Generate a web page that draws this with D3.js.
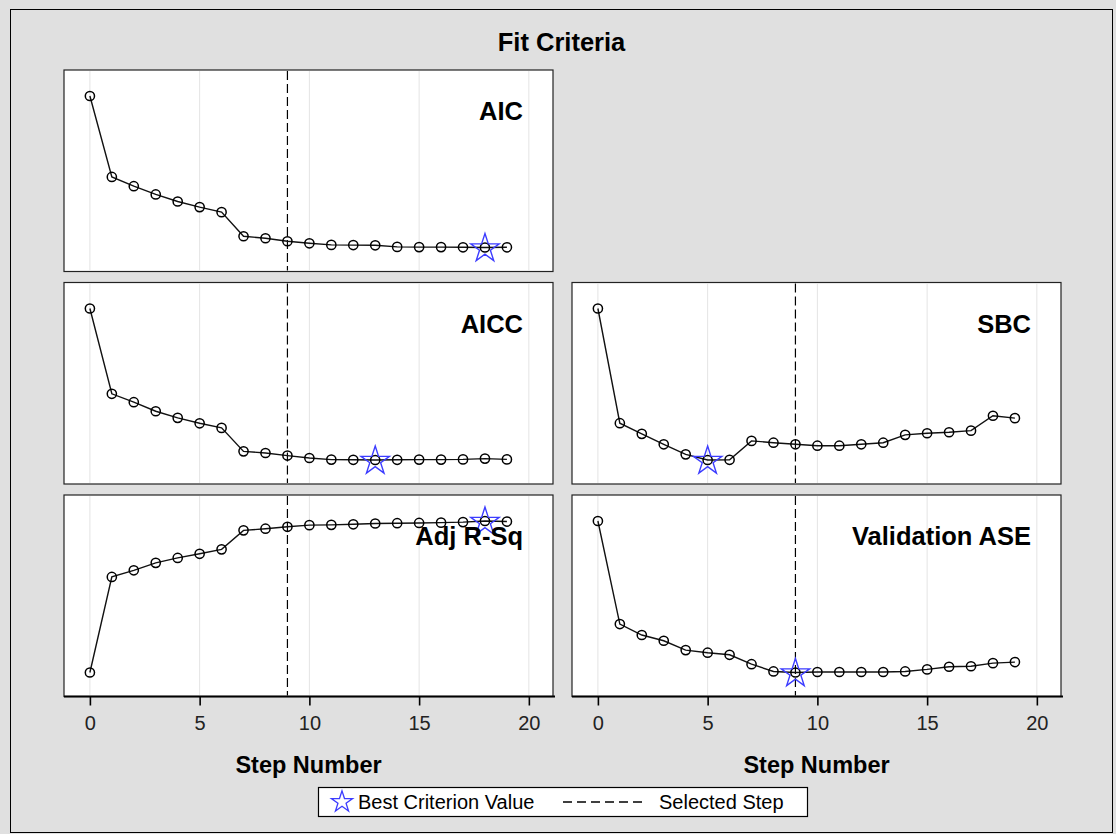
<!DOCTYPE html>
<html>
<head>
<meta charset="utf-8">
<script src="https://cdn.jsdelivr.net/npm/d3@7"></script>
<style>
  body { margin: 0; background: #fff; }
  svg { display: block; font-family: "Liberation Sans", Arial, sans-serif; }
</style>
</head>
<body>
<svg id="chart" width="1116" height="834"></svg>
<script>
// step numbers 0..19
var steps = [0, 1, 2, 3, 4, 5, 6, 7, 8, 9, 10, 11, 12, 13, 14, 15, 16, 17, 18, 19];

// criterion values
var aic    = [2275, 1872, 1826, 1785, 1750, 1722, 1697, 1577, 1567, 1552, 1542, 1534, 1533, 1532, 1524, 1523, 1523, 1522, 1521, 1522];
var aicc   = [2273, 1848, 1806, 1761, 1728, 1701, 1678, 1561, 1553, 1540, 1528, 1520, 1519, 1518, 1519, 1520, 1520, 1521, 1525, 1521];
var sbc    = [2372, 1802, 1749, 1697, 1647, 1619, 1620, 1714, 1705, 1697, 1690, 1690, 1697, 1705, 1744, 1752, 1757, 1765, 1839, 1827];
var adjRsq = [0.300, 0.647, 0.671, 0.698, 0.716, 0.731, 0.747, 0.816, 0.822, 0.829, 0.835, 0.836, 0.838, 0.841, 0.842, 0.843, 0.844, 0.846, 0.850, 0.848];
var valAse = [13.40, 11.42, 11.21, 11.10, 10.92, 10.87, 10.83, 10.65, 10.51, 10.49, 10.50, 10.50, 10.50, 10.50, 10.51, 10.55, 10.60, 10.61, 10.67, 10.69];

var selectedStep = 9;
var xTicks = [0, 5, 10, 15, 20];

// panel list: name, values, best = min or max, grid cell
var panels = [
    { name: "AIC", values: aic, best: "min", row: 0, col: 0 },
    { name: "AICC", values: aicc, best: "min", row: 1, col: 0 },
    { name: "SBC", values: sbc, best: "min", row: 1, col: 1 },
    { name: "Adj R-Sq", values: adjRsq, best: "max", row: 2, col: 0 },
    { name: "Validation ASE", values: valAse, best: "min", row: 2, col: 1 }
];

var svg = d3.select("#chart");

var colLeft = [64, 572];
var colWidth = 489;
var rowTop = [70, 282.5, 495];
var rowHeight = 201.5;
var BLUE = "#3c3cff";

// background + outer frame
svg.append("rect")
    .attr("x", 0).attr("y", 0)
    .attr("width", 1116).attr("height", 834)
    .attr("fill", "#e0e0e0");

svg.append("rect")
    .attr("x", 10.5).attr("y", 9.5)
    .attr("width", 1102).attr("height", 823)
    .attr("fill", "none")
    .attr("stroke", "#000")
    .attr("stroke-width", 1);

svg.append("text")
    .attr("x", 561.5)
    .attr("y", 51)
    .attr("text-anchor", "middle")
    .attr("font-size", 25.5)
    .attr("font-weight", "bold")
    .attr("fill", "#000")
    .text("Fit Criteria");

var star = d3.symbol().type(d3.symbolStar);

panels.forEach(function (p) {
    var x0 = colLeft[p.col], y0 = rowTop[p.row];

    var x = d3.scaleLinear()
        .domain([-1.18, 21.1])
        .range([x0, x0 + colWidth]);

    var ext = d3.extent(p.values);
    var y = d3.scaleLinear()
        .domain(ext)
        .range([y0 + rowHeight - 24, y0 + 26]);

    var g = svg.append("g").attr("class", "panel");

    g.append("rect")
        .attr("x", x0).attr("y", y0)
        .attr("width", colWidth).attr("height", rowHeight)
        .attr("fill", "#fff")
        .attr("stroke", "#222")
        .attr("stroke-width", 1.2);

    // vertical grid
    g.selectAll("line.grid")
        .data(xTicks)
        .enter().append("line")
        .attr("class", "grid")
        .attr("x1", function (d) { return x(d); })
        .attr("x2", function (d) { return x(d); })
        .attr("y1", y0 + 1)
        .attr("y2", y0 + rowHeight - 1)
        .attr("stroke", "#e4e4e4")
        .attr("stroke-width", 1);

    // selected step
    g.append("line")
        .attr("x1", x(selectedStep)).attr("x2", x(selectedStep))
        .attr("y1", y0 + 1).attr("y2", y0 + rowHeight - 1)
        .attr("stroke", "#000")
        .attr("stroke-width", 1.2)
        .attr("stroke-dasharray", "9,4");

    var line = d3.line()
        .x(function (d, i) { return x(steps[i]); })
        .y(function (d) { return y(d); });

    g.append("path")
        .datum(p.values)
        .attr("d", line)
        .attr("fill", "none")
        .attr("stroke", "#111")
        .attr("stroke-width", 1.4);

    g.selectAll("circle")
        .data(p.values)
        .enter().append("circle")
        .attr("cx", function (d, i) { return x(steps[i]); })
        .attr("cy", function (d) { return y(d); })
        .attr("r", 4.6)
        .attr("fill", "none")
        .attr("stroke", "#000")
        .attr("stroke-width", 1.5);

    // best criterion value
    var bestVal = p.best == "min" ? d3.min(p.values) : d3.max(p.values);
    var bestIdx = p.values.indexOf(bestVal);
    g.append("path")
        .attr("d", star.size(250)())
        .attr("transform", "translate(" + x(steps[bestIdx]) + "," + (y(bestVal) + 1) + ")")
        .attr("fill", "none")
        .attr("stroke", BLUE)
        .attr("stroke-width", 1.4);

    g.append("text")
        .attr("x", x0 + colWidth - 30)
        .attr("y", y0 + 50)
        .attr("text-anchor", "end")
        .attr("font-size", 25.5)
        .attr("font-weight", "bold")
        .attr("fill", "#000")
        .text(p.name);

    // x axis under the bottom row
    if (p.row == 2) {
        var axis = d3.axisBottom(x)
            .tickValues(xTicks)
            .tickSize(9)
            .tickPadding(10)
            .tickSizeOuter(0);

        var ga = g.append("g")
            .attr("transform", "translate(0," + (y0 + rowHeight) + ")")
            .call(axis);
        ga.select(".domain")
            .attr("d", "M" + x0 + ",0H" + (x0 + colWidth + 2))
            .attr("stroke", "#000")
            .attr("stroke-width", 2.2);
        ga.selectAll(".tick line").attr("stroke", "#000").attr("stroke-width", 1.6);
        ga.selectAll(".tick text")
            .attr("font-size", 20)
            .attr("font-family", "Liberation Sans, Arial, sans-serif")
            .attr("fill", "#222");

        svg.append("text")
            .attr("x", x0 + colWidth / 2)
            .attr("y", 773)
            .attr("text-anchor", "middle")
            .attr("font-size", 23.5)
            .attr("font-weight", "bold")
            .attr("fill", "#000")
            .text("Step Number");
    }
});

// legend
var lg = svg.append("g").attr("class", "legend");
lg.append("rect")
    .attr("x", 318.5).attr("y", 787.5)
    .attr("width", 489).attr("height", 29)
    .attr("fill", "#fff")
    .attr("stroke", "#000")
    .attr("stroke-width", 1.2);
lg.append("path")
    .attr("d", star.size(140)())
    .attr("transform", "translate(342,802)")
    .attr("fill", "none")
    .attr("stroke", BLUE)
    .attr("stroke-width", 1.3);
lg.append("text")
    .attr("x", 358).attr("y", 809)
    .attr("font-size", 20)
    .attr("fill", "#000")
    .text("Best Criterion Value");
lg.append("line")
    .attr("x1", 563).attr("x2", 645)
    .attr("y1", 802).attr("y2", 802)
    .attr("stroke", "#000")
    .attr("stroke-width", 1.3)
    .attr("stroke-dasharray", "9,5");
lg.append("text")
    .attr("x", 659).attr("y", 809)
    .attr("font-size", 20)
    .attr("fill", "#000")
    .text("Selected Step");
</script>
</body>
</html>
